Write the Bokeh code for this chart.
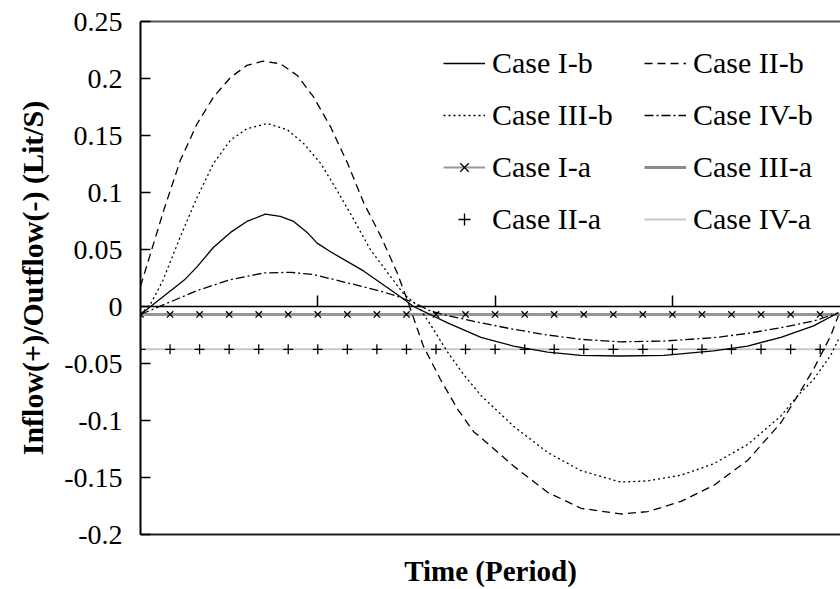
from bokeh.plotting import figure
from bokeh.models import Range1d, LinearAxis, FixedTicker, Legend, LegendItem
from bokeh.embed import file_html
from bokeh.resources import INLINE

FONT = "Liberation Serif"

# ---- data (time in fraction of period, flow in Lit/S) ----
t_Ib = [0.0, 0.063, 0.080, 0.103, 0.127, 0.150, 0.176, 0.197, 0.216, 0.235, 0.249,
        0.268, 0.315, 0.362, 0.385, 0.433, 0.480, 0.526, 0.574, 0.621, 0.677,
        0.738, 0.808, 0.856, 0.903, 0.949, 0.984]
v_Ib = [-0.007, 0.024, 0.035, 0.052, 0.065, 0.0746, 0.081, 0.079, 0.0746, 0.065, 0.0556,
        0.048, 0.031, 0.0105, 0.0, -0.0143, -0.027, -0.0347, -0.040, -0.0428, -0.0434,
        -0.0428, -0.039, -0.0347, -0.027, -0.017, -0.0055]

t_IIb = [0.0, 0.033, 0.056, 0.080, 0.103, 0.127, 0.150, 0.173, 0.197, 0.221, 0.244,
         0.268, 0.292, 0.315, 0.339, 0.362, 0.376, 0.399, 0.423, 0.447, 0.470, 0.480,
         0.526, 0.574, 0.621, 0.677, 0.715, 0.762, 0.808, 0.856, 0.903, 0.927,
         0.949, 0.973, 0.984]
v_IIb = [0.0177, 0.0848, 0.128, 0.1605, 0.1838, 0.201, 0.2115, 0.2152, 0.213, 0.2027, 0.1838,
         0.1576, 0.1256, 0.0906, 0.0614, 0.0294, 0.006, -0.035, -0.064, -0.090, -0.110, -0.115,
         -0.140, -0.163, -0.177, -0.182, -0.180, -0.171, -0.157, -0.135, -0.102, -0.078,
         -0.055, -0.026, -0.008]

t_IIIb = [0.0, 0.014, 0.031, 0.056, 0.080, 0.103, 0.127, 0.150, 0.179, 0.207, 0.230,
          0.254, 0.277, 0.301, 0.324, 0.348, 0.371, 0.392, 0.409, 0.433, 0.456, 0.480,
          0.526, 0.574, 0.621, 0.677, 0.715, 0.762, 0.808, 0.856, 0.903, 0.927,
          0.949, 0.973, 0.984]
v_IIIb = [-0.007, 0.002, 0.022, 0.061, 0.096, 0.1256, 0.146, 0.156, 0.1605, 0.155, 0.143,
          0.1256, 0.102, 0.076, 0.050, 0.030, 0.011, 0.0, -0.016, -0.040, -0.060, -0.078,
          -0.105, -0.128, -0.144, -0.154, -0.153, -0.148, -0.138, -0.121, -0.096, -0.078,
          -0.064, -0.043, -0.029]

t_IVb = [0.0, 0.080, 0.127, 0.174, 0.212, 0.244, 0.292, 0.339, 0.362, 0.385, 0.409,
         0.433, 0.480, 0.526, 0.574, 0.621, 0.677, 0.738, 0.808, 0.856, 0.903, 0.949, 0.984]
v_IVb = [-0.007, 0.014, 0.0236, 0.0294, 0.030, 0.028, 0.0207, 0.0134, 0.009, 0.0035, -0.004,
         -0.008, -0.0143, -0.020, -0.025, -0.0288, -0.031, -0.0303, -0.0274, -0.0236, -0.0186,
         -0.0128, -0.0055]

t_a = [0.0, 0.0417, 0.0833, 0.125, 0.1667, 0.2083, 0.25, 0.2917, 0.3333, 0.375, 0.4167,
       0.4583, 0.5, 0.5417, 0.5833, 0.625, 0.6667, 0.7083, 0.75, 0.7917, 0.8333, 0.875,
       0.9167, 0.9583, 1.0]
v_Ia = [-0.007, -0.007, -0.007, -0.007, -0.007, -0.007, -0.007, -0.007, -0.007, -0.007,
        -0.007, -0.007, -0.007, -0.007, -0.007, -0.007, -0.007, -0.007, -0.007, -0.007,
        -0.007, -0.007, -0.007, -0.007, -0.007]
v_IIIa = [-0.007, -0.007, -0.007, -0.007, -0.007, -0.007, -0.007, -0.007, -0.007, -0.007,
          -0.007, -0.007, -0.007, -0.007, -0.007, -0.007, -0.007, -0.007, -0.007, -0.007,
          -0.007, -0.007, -0.007, -0.007, -0.007]
v_IIa = [-0.0376, -0.0376, -0.0376, -0.0376, -0.0376, -0.0376, -0.0376, -0.0376, -0.0376,
         -0.0376, -0.0376, -0.0376, -0.0376, -0.0376, -0.0376, -0.0376, -0.0376, -0.0376,
         -0.0376, -0.0376, -0.0376, -0.0376, -0.0376, -0.0376, -0.0376]
v_IVa = [-0.0376, -0.0376, -0.0376, -0.0376, -0.0376, -0.0376, -0.0376, -0.0376, -0.0376,
         -0.0376, -0.0376, -0.0376, -0.0376, -0.0376, -0.0376, -0.0376, -0.0376, -0.0376,
         -0.0376, -0.0376, -0.0376, -0.0376, -0.0376, -0.0376, -0.0376]

y_ticks = [-0.2, -0.15, -0.1, -0.05, 0, 0.05, 0.1, 0.15, 0.2, 0.25]
y_tick_labels = ["-0.2", "-0.15", "-0.1", "-0.05", "0", "0.05", "0.1", "0.15", "0.2", "0.25"]
x_ticks = [0.25, 0.5, 0.75]
x_tick_labels = ["", "", ""]

x_label = "Time (Period)"
y_label = "Inflow(+)/Outflow(-) (Lit/S)"

# ---- figure ----
p = figure(width=840, height=589, x_range=Range1d(0, 0.987), y_range=Range1d(-0.2, 0.25),
           output_backend="svg", toolbar_location=None, x_axis_type=None, y_axis_type=None,
           min_border_left=140, min_border_right=0, min_border_top=21, min_border_bottom=53)
p.outline_line_color = None
p.background_fill_color = "white"
p.border_fill_color = "white"

# left (value) axis
yax = LinearAxis(ticker=FixedTicker(ticks=y_ticks),
                 major_label_overrides=dict(zip(y_ticks, y_tick_labels)),
                 axis_label=y_label,
                 major_tick_in=10, major_tick_out=0, minor_tick_line_color=None,
                 axis_line_color="black", axis_line_width=2,
                 major_tick_line_color="black", major_tick_line_width=1.5,
                 major_label_standoff=18,
                 major_label_text_font=FONT, major_label_text_font_size="28px",
                 major_label_text_color="black",
                 axis_label_text_font=FONT, axis_label_text_font_size="30px",
                 axis_label_text_font_style="bold", axis_label_text_color="black",
                 axis_label_standoff=12)
p.add_layout(yax, "left")

# top border
top = LinearAxis(ticker=FixedTicker(ticks=[]), major_tick_line_color=None,
                 minor_tick_line_color=None, major_label_standoff=0,
                 axis_line_color="#555555", axis_line_width=2)
p.add_layout(top, "above")

# bottom border with axis title
bot = LinearAxis(ticker=FixedTicker(ticks=[]), major_tick_line_color=None,
                 minor_tick_line_color=None, major_label_standoff=0,
                 axis_line_color="#222222", axis_line_width=2,
                 axis_label=x_label, axis_label_text_font=FONT,
                 axis_label_text_font_size="29px", axis_label_text_font_style="bold",
                 axis_label_text_color="black", axis_label_standoff=20)
p.add_layout(bot, "below")

# category axis crossing at zero
xax = LinearAxis(fixed_location=0, ticker=FixedTicker(ticks=x_ticks),
                 major_label_overrides=dict(zip(x_ticks, x_tick_labels)),
                 major_tick_in=11, major_tick_out=0, minor_tick_line_color=None,
                 axis_line_color="black",
                 axis_line_width=1.5, major_tick_line_color="black", major_tick_line_width=1.5)
p.add_layout(xax, "below")

# ---- series ----
r_IVa = p.line(t_a, v_IVa, line_color="#c8c8c8", line_width=2)
r_IIIa = p.line(t_a, v_IIIa, line_color="#8a8a8a", line_width=3)
r_Ia_l = p.line(t_a, v_Ia, line_color="#999999", line_width=2)
r_Ia_m = p.scatter(t_a, v_Ia, marker="x", size=9, line_color="black", line_width=1.3)
r_IIa = p.scatter(t_a, v_IIa, marker="cross", size=10, line_color="black", line_width=1.3)

r_Ib = p.line(t_Ib, v_Ib, line_color="black", line_width=1.3)
r_IIb = p.line(t_IIb, v_IIb, line_color="black", line_width=1.3, line_dash="8 5")
r_IIIb = p.line(t_IIIb, v_IIIb, line_color="black", line_width=1.3, line_dash="2 3")
r_IVb = p.line(t_IVb, v_IVb, line_color="black", line_width=1.3, line_dash="9 3 2 3")

def make_legend(items, x, y):
    lg = Legend(items=items, location=(x, y), orientation="vertical",
                label_text_font=FONT, label_text_font_size="30px", label_text_color="black",
                glyph_width=42, glyph_height=30, label_height=30, label_standoff=7,
                spacing=18, padding=0, margin=0, border_line_color=None,
                background_fill_alpha=0)
    p.add_layout(lg)

make_legend([LegendItem(label="Case I-b", renderers=[r_Ib]),
             LegendItem(label="Case III-b", renderers=[r_IIIb]),
             LegendItem(label="Case I-a", renderers=[r_Ia_l, r_Ia_m]),
             LegendItem(label="Case II-a", renderers=[r_IIa])], 303, 298)
make_legend([LegendItem(label="Case II-b", renderers=[r_IIb]),
             LegendItem(label="Case IV-b", renderers=[r_IVb]),
             LegendItem(label="Case III-a", renderers=[r_IIIa]),
             LegendItem(label="Case IV-a", renderers=[r_IVa])], 504, 298)

open("out.html", "w").write(file_html(p, INLINE))
